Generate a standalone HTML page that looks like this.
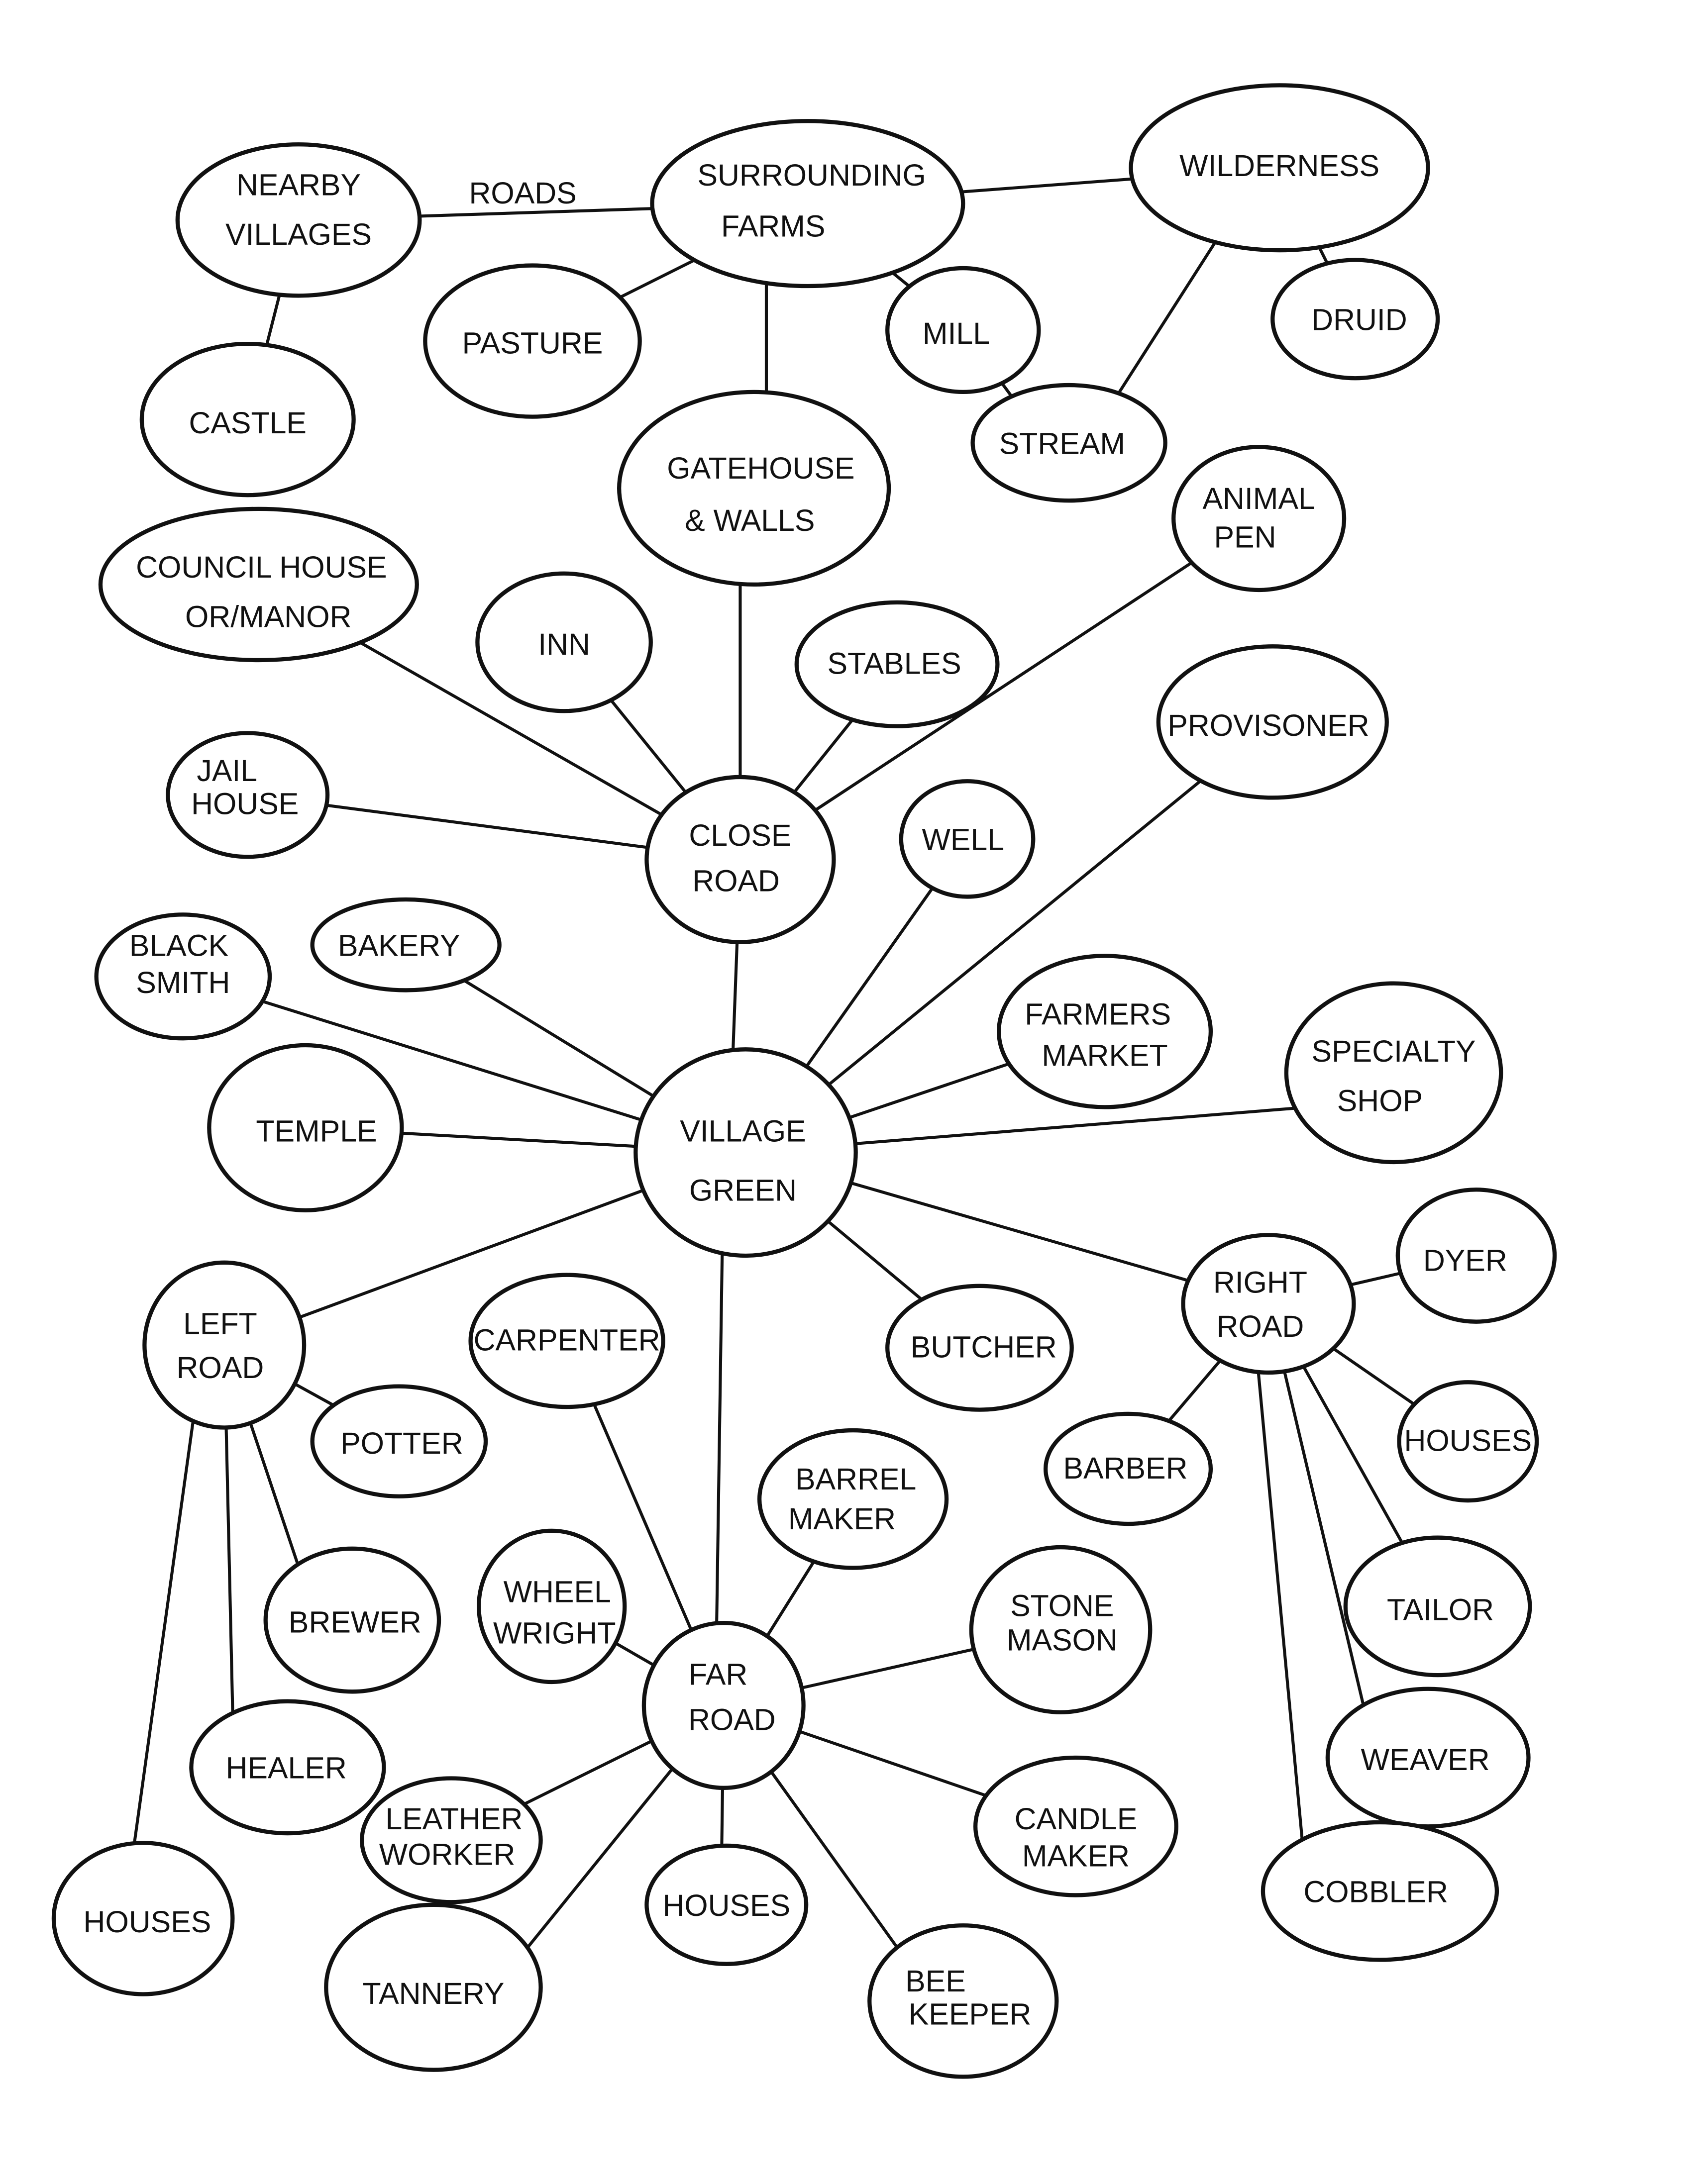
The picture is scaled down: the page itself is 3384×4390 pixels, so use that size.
<!DOCTYPE html>
<html><head><meta charset="utf-8"><style>
html,body{margin:0;padding:0;background:#fff;}
svg{display:block;}
text{font-family:"Liberation Sans",sans-serif;font-size:22px;fill:#111;text-anchor:middle;}
ellipse{fill:#fff;stroke:#111;stroke-width:3;}
line{stroke:#111;stroke-width:2.2;}
</style></head><body>
<svg width="3384" height="4390" viewBox="0 0 1224 1588" xmlns="http://www.w3.org/2000/svg">
<rect width="1224" height="1588" fill="#fff"/>
<g>
<line x1="217" y1="160" x2="587" y2="148"/>
<line x1="217" y1="160" x2="180" y2="305"/>
<line x1="587" y1="148" x2="387" y2="248"/>
<line x1="587" y1="148" x2="700" y2="240"/>
<line x1="587" y1="148" x2="930" y2="122"/>
<line x1="557" y1="148" x2="557" y2="300"/>
<line x1="930" y1="122" x2="985" y2="232"/>
<line x1="900" y1="150" x2="790" y2="322"/>
<line x1="700" y1="240" x2="760" y2="322"/>
<line x1="538" y1="355" x2="538" y2="625"/>
<line x1="538" y1="625" x2="188" y2="425"/>
<line x1="538" y1="625" x2="410" y2="467"/>
<line x1="538" y1="625" x2="652" y2="483"/>
<line x1="538" y1="625" x2="915" y2="377"/>
<line x1="538" y1="625" x2="180" y2="578"/>
<line x1="538" y1="625" x2="530" y2="838"/>
<line x1="542" y1="838" x2="703" y2="610"/>
<line x1="542" y1="838" x2="925" y2="525"/>
<line x1="542" y1="838" x2="133" y2="710"/>
<line x1="542" y1="838" x2="295" y2="687"/>
<line x1="542" y1="838" x2="803" y2="750"/>
<line x1="542" y1="838" x2="1013" y2="800"/>
<line x1="542" y1="838" x2="222" y2="820"/>
<line x1="542" y1="838" x2="163" y2="978"/>
<line x1="526" y1="838" x2="520" y2="1240"/>
<line x1="542" y1="838" x2="712" y2="980"/>
<line x1="542" y1="838" x2="922" y2="948"/>
<line x1="922" y1="948" x2="1073" y2="913"/>
<line x1="922" y1="948" x2="820" y2="1068"/>
<line x1="922" y1="948" x2="1067" y2="1048"/>
<line x1="922" y1="948" x2="1045" y2="1168"/>
<line x1="922" y1="948" x2="1000" y2="1278"/>
<line x1="910" y1="948" x2="950" y2="1375"/>
<line x1="163" y1="978" x2="290" y2="1048"/>
<line x1="163" y1="978" x2="230" y2="1178"/>
<line x1="163" y1="978" x2="170" y2="1285"/>
<line x1="148" y1="978" x2="90" y2="1395"/>
<line x1="526" y1="1240" x2="412" y2="975"/>
<line x1="526" y1="1240" x2="620" y2="1090"/>
<line x1="526" y1="1240" x2="401" y2="1168"/>
<line x1="526" y1="1240" x2="771" y2="1185"/>
<line x1="526" y1="1240" x2="782" y2="1328"/>
<line x1="526" y1="1240" x2="328" y2="1338"/>
<line x1="526" y1="1240" x2="524" y2="1385"/>
<line x1="526" y1="1240" x2="360" y2="1445"/>
<line x1="526" y1="1240" x2="680" y2="1455"/>
</g>
<text x="380" y="148" font-size="20">ROADS</text>
<g>
<ellipse cx="217" cy="160" rx="88" ry="55"/>
<ellipse cx="587" cy="148" rx="113" ry="60"/>
<ellipse cx="930" cy="122" rx="108" ry="60"/>
<ellipse cx="387" cy="248" rx="78" ry="55"/>
<ellipse cx="700" cy="240" rx="55" ry="45"/>
<ellipse cx="985" cy="232" rx="60" ry="43"/>
<ellipse cx="180" cy="305" rx="77" ry="55"/>
<ellipse cx="777" cy="322" rx="70" ry="42"/>
<ellipse cx="548" cy="355" rx="98" ry="70"/>
<ellipse cx="915" cy="377" rx="62" ry="52"/>
<ellipse cx="188" cy="425" rx="115" ry="55"/>
<ellipse cx="410" cy="467" rx="63" ry="50"/>
<ellipse cx="652" cy="483" rx="73" ry="45"/>
<ellipse cx="925" cy="525" rx="83" ry="55"/>
<ellipse cx="180" cy="578" rx="58" ry="45"/>
<ellipse cx="538" cy="625" rx="68" ry="60"/>
<ellipse cx="703" cy="610" rx="48" ry="42"/>
<ellipse cx="133" cy="710" rx="63" ry="45"/>
<ellipse cx="295" cy="687" rx="68" ry="33"/>
<ellipse cx="803" cy="750" rx="77" ry="55"/>
<ellipse cx="1013" cy="780" rx="78" ry="65"/>
<ellipse cx="222" cy="820" rx="70" ry="60"/>
<ellipse cx="542" cy="838" rx="80" ry="75"/>
<ellipse cx="1073" cy="913" rx="57" ry="48"/>
<ellipse cx="163" cy="978" rx="58" ry="60"/>
<ellipse cx="412" cy="975" rx="70" ry="48"/>
<ellipse cx="712" cy="980" rx="67" ry="45"/>
<ellipse cx="922" cy="948" rx="62" ry="50"/>
<ellipse cx="290" cy="1048" rx="63" ry="40"/>
<ellipse cx="820" cy="1068" rx="60" ry="40"/>
<ellipse cx="1067" cy="1048" rx="50" ry="43"/>
<ellipse cx="620" cy="1090" rx="68" ry="50"/>
<ellipse cx="401" cy="1168" rx="53" ry="55"/>
<ellipse cx="256" cy="1178" rx="63" ry="52"/>
<ellipse cx="771" cy="1185" rx="65" ry="60"/>
<ellipse cx="1045" cy="1168" rx="67" ry="50"/>
<ellipse cx="526" cy="1240" rx="58" ry="60"/>
<ellipse cx="1038" cy="1278" rx="73" ry="50"/>
<ellipse cx="209" cy="1285" rx="70" ry="48"/>
<ellipse cx="328" cy="1338" rx="65" ry="45"/>
<ellipse cx="782" cy="1328" rx="73" ry="50"/>
<ellipse cx="1003" cy="1375" rx="85" ry="50"/>
<ellipse cx="104" cy="1395" rx="65" ry="55"/>
<ellipse cx="528" cy="1385" rx="58" ry="43"/>
<ellipse cx="315" cy="1445" rx="78" ry="60"/>
<ellipse cx="700" cy="1455" rx="68" ry="55"/>
</g>
<g>
<text x="217" y="142">NEARBY</text><text x="217" y="178">VILLAGES</text>
<text x="590" y="135">SURROUNDING</text><text x="562" y="172">FARMS</text>
<text x="930" y="128">WILDERNESS</text>
<text x="387" y="257">PASTURE</text>
<text x="695" y="250">MILL</text>
<text x="988" y="240">DRUID</text>
<text x="180" y="315">CASTLE</text>
<text x="772" y="330">STREAM</text>
<text x="553" y="348">GATEHOUSE</text><text x="545" y="386">&amp; WALLS</text>
<text x="915" y="370">ANIMAL</text><text x="905" y="398">PEN</text>
<text x="190" y="420" font-size="20">COUNCIL HOUSE</text><text x="195" y="456" font-size="20">OR/MANOR</text>
<text x="410" y="476">INN</text>
<text x="650" y="490">STABLES</text>
<text x="922" y="535" font-size="20">PROVISONER</text>
<text x="165" y="568">JAIL</text><text x="178" y="592">HOUSE</text>
<text x="538" y="615">CLOSE</text><text x="535" y="648">ROAD</text>
<text x="700" y="618">WELL</text>
<text x="130" y="695">BLACK</text><text x="133" y="722">SMITH</text>
<text x="290" y="695">BAKERY</text>
<text x="798" y="745">FARMERS</text><text x="803" y="775">MARKET</text>
<text x="1013" y="772">SPECIALTY</text><text x="1003" y="808">SHOP</text>
<text x="230" y="830">TEMPLE</text>
<text x="540" y="830">VILLAGE</text><text x="540" y="873">GREEN</text>
<text x="1065" y="924">DYER</text>
<text x="160" y="970">LEFT</text><text x="160" y="1002">ROAD</text>
<text x="412" y="982" font-size="20">CARPENTER</text>
<text x="715" y="987" font-size="20">BUTCHER</text>
<text x="916" y="940">RIGHT</text><text x="916" y="972">ROAD</text>
<text x="292" y="1057">POTTER</text>
<text x="818" y="1075">BARBER</text>
<text x="1067" y="1055" font-size="19">HOUSES</text>
<text x="622" y="1083">BARREL</text><text x="612" y="1112">MAKER</text>
<text x="405" y="1165" font-size="20">WHEEL</text><text x="403" y="1195" font-size="20">WRIGHT</text>
<text x="258" y="1187">BREWER</text>
<text x="772" y="1175">STONE</text><text x="772" y="1200">MASON</text>
<text x="1047" y="1178">TAILOR</text>
<text x="522" y="1225">FAR</text><text x="532" y="1258">ROAD</text>
<text x="1036" y="1287">WEAVER</text>
<text x="208" y="1293">HEALER</text>
<text x="330" y="1330" font-size="20">LEATHER</text><text x="325" y="1356" font-size="20">WORKER</text>
<text x="782" y="1330">CANDLE</text><text x="782" y="1357">MAKER</text>
<text x="1000" y="1383">COBBLER</text>
<text x="107" y="1405">HOUSES</text>
<text x="528" y="1393" font-size="20">HOUSES</text>
<text x="315" y="1457">TANNERY</text>
<text x="680" y="1448">BEE</text><text x="705" y="1472">KEEPER</text>
</g>
</svg>
</body></html>
